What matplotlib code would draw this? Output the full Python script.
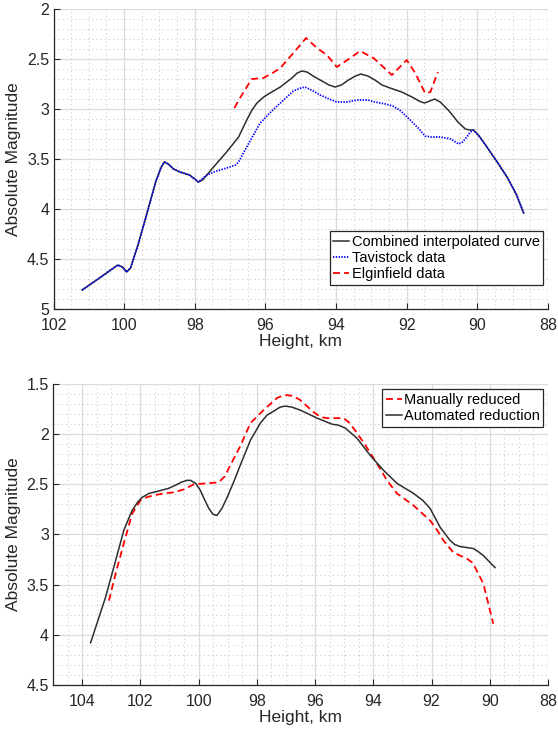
import matplotlib
matplotlib.use('Agg')
import matplotlib.pyplot as plt
from matplotlib.ticker import MultipleLocator

plt.rcParams['font.family'] = ['Liberation Sans', 'DejaVu Sans']
plt.rcParams['lines.scale_dashes'] = False

# --- top panel: combined vs. station data
comb_h = [101.19, 100.70, 100.30, 100.18, 100.05, 99.93, 99.82, 99.60, 99.40,
          99.10, 98.95, 98.86, 98.75, 98.60, 98.42, 98.15, 98.00, 97.90,
          97.78, 97.47, 97.10, 96.76, 96.53, 96.38, 96.24, 96.05, 95.87,
          95.58, 95.25, 95.10, 94.97, 94.82, 94.65, 94.45, 94.20, 94.03,
          93.85, 93.65, 93.45, 93.30, 93.10, 92.90, 92.70, 92.47, 92.14,
          91.85, 91.65, 91.50, 91.35, 91.21, 91.05, 90.80, 90.55, 90.34,
          90.22, 90.11, 89.95, 89.73, 89.40, 89.16, 88.90, 88.69]
comb_m = [4.81, 4.69, 4.59, 4.56, 4.58, 4.63, 4.59, 4.35, 4.10,
          3.72, 3.58, 3.53, 3.55, 3.60, 3.63, 3.66, 3.70, 3.73,
          3.71, 3.58, 3.43, 3.28, 3.11, 3.01, 2.94, 2.88, 2.84,
          2.78, 2.69, 2.64, 2.62, 2.63, 2.67, 2.71, 2.76, 2.78,
          2.76, 2.71, 2.67, 2.65, 2.67, 2.71, 2.76, 2.79, 2.83,
          2.88, 2.92, 2.94, 2.92, 2.90, 2.93, 3.02, 3.13, 3.20,
          3.21, 3.21, 3.27, 3.38, 3.55, 3.68, 3.85, 4.04]

tav_h = [101.19, 100.70, 100.30, 100.18, 100.05, 99.93, 99.82, 99.60, 99.40,
         99.10, 98.95, 98.86, 98.75, 98.60, 98.42, 98.15, 98.00, 97.90,
         97.70, 97.47, 97.10, 96.85, 96.76, 96.53, 96.15, 95.85, 95.58,
         95.21, 95.00, 94.88, 94.70, 94.45, 94.20, 93.98, 93.70, 93.41,
         93.10, 92.90, 92.60, 92.40, 92.20, 91.90, 91.65, 91.48, 91.30,
         91.05, 90.75, 90.53, 90.42, 90.30, 90.20, 90.11, 89.95, 89.73,
         89.40, 89.16, 88.90, 88.69]
tav_m = [4.81, 4.69, 4.59, 4.56, 4.58, 4.63, 4.59, 4.35, 4.10,
         3.72, 3.58, 3.53, 3.55, 3.60, 3.63, 3.66, 3.70, 3.73,
         3.67, 3.63, 3.59, 3.56, 3.53, 3.38, 3.14, 3.03, 2.94,
         2.82, 2.79, 2.78, 2.81, 2.86, 2.90, 2.93, 2.93, 2.91,
         2.91, 2.93, 2.95, 2.97, 3.01, 3.11, 3.20, 3.27, 3.28,
         3.28, 3.30, 3.35, 3.33, 3.28, 3.23, 3.21, 3.27, 3.38,
         3.55, 3.68, 3.85, 4.04]

elg_h = [96.88, 96.72, 96.39, 96.06, 95.80, 95.58, 95.21, 94.85, 94.54,
         94.26, 93.98, 93.60, 93.32, 92.94, 92.42, 92.00, 91.76, 91.48,
         91.33, 91.12]
elg_m = [2.99, 2.89, 2.70, 2.69, 2.64, 2.59, 2.44, 2.29, 2.39,
         2.46, 2.58, 2.49, 2.42, 2.49, 2.66, 2.51, 2.64, 2.84,
         2.83, 2.63]

# --- bottom panel: manual vs. automated reduction
auto_h = [103.71, 103.20, 102.85, 102.57, 102.40, 102.28, 102.10, 101.94,
          101.70, 101.42, 101.03, 100.80, 100.60, 100.40, 100.28, 100.10,
          99.94, 99.80, 99.65, 99.50, 99.37, 99.20, 99.02, 98.80, 98.57,
          98.22, 97.88, 97.65, 97.42, 97.20, 97.02, 96.80, 96.51, 95.93,
          95.42, 95.20, 94.96, 94.56, 94.11, 93.65, 93.40, 93.19, 92.62,
          92.30, 92.05, 91.70, 91.36, 91.20, 91.02, 90.80, 90.56, 90.40,
          90.22, 89.82]
auto_m = [4.08, 3.63, 3.26, 2.96, 2.84, 2.76, 2.68, 2.63,
          2.59, 2.57, 2.54, 2.51, 2.48, 2.46, 2.46, 2.49,
          2.56, 2.65, 2.74, 2.80, 2.81, 2.74, 2.63, 2.48, 2.31,
          2.06, 1.89, 1.81, 1.77, 1.73, 1.72, 1.73, 1.76, 1.84,
          1.90, 1.91, 1.94, 2.04, 2.21, 2.36, 2.43, 2.49, 2.59,
          2.66, 2.74, 2.93, 3.06, 3.10, 3.12, 3.13, 3.14, 3.17,
          3.21, 3.33]

man_h = [103.08, 102.85, 102.57, 102.28, 102.00, 101.80, 101.54, 101.20,
         100.85, 100.50, 100.17, 99.71, 99.31, 99.10, 98.91, 98.57, 98.22,
         97.77, 97.31, 97.15, 96.96, 96.75, 96.51, 96.05, 95.80, 95.59,
         95.02, 94.85, 94.68, 94.34, 93.88, 93.53, 93.19, 92.62, 92.05,
         91.80, 91.59, 91.25, 90.79, 90.60, 90.50, 90.22, 90.05, 89.88]
man_m = [3.66, 3.39, 3.09, 2.79, 2.66, 2.63, 2.61, 2.59,
         2.58, 2.55, 2.50, 2.49, 2.48, 2.42, 2.31, 2.12, 1.89,
         1.76, 1.64, 1.62, 1.61, 1.62, 1.66, 1.78, 1.83, 1.84,
         1.84, 1.88, 1.94, 2.08, 2.29, 2.46, 2.59, 2.71, 2.86,
         2.96, 3.06, 3.18, 3.24, 3.28, 3.33, 3.49, 3.69, 3.89]

black = '#262626'
red_dash = dict(color='red', lw=1.3, linestyle=(0, (5, 3)))
blue_dot = dict(color='blue', lw=1.3, linestyle=(0, (1, 1)))
black_line = dict(color='#2e2e2e', lw=1.1)


def style(ax, xlim, ylim, xticks, yticks):
    ax.set_xlim(*xlim)
    ax.set_ylim(*ylim)
    ax.set_xticks(xticks)
    ax.set_yticks(yticks)
    ax.set_yticklabels([('%g' % v) for v in yticks])
    ax.xaxis.set_minor_locator(MultipleLocator(0.5))
    ax.yaxis.set_minor_locator(MultipleLocator(0.1))
    ax.grid(which='major', color='#dcdcdc', lw=0.9, linestyle='-')
    ax.grid(which='minor', color='#d2d2d2', lw=0.7, linestyle=(0, (1, 2)))
    ax.set_axisbelow(True)
    for s in ('top', 'right'):
        ax.spines[s].set_visible(False)
    for s in ('left', 'bottom'):
        ax.spines[s].set_color(black)
        ax.spines[s].set_linewidth(0.9)
    ax.tick_params(which='major', direction='in', length=4, width=0.8,
                   colors=black, labelsize=11.5, pad=3)
    ax.tick_params(axis='x', which='major', pad=6.5)
    ax.tick_params(which='minor', length=0)
    ax.set_xlabel('Height, km', fontsize=12.5, color=black, labelpad=1)
    ax.set_ylabel('Absolute Magnitude', fontsize=12.5, color=black, labelpad=4)


fig = plt.figure(figsize=(5.58, 7.34), dpi=100)

ax1 = fig.add_axes([0.0959, 0.579, 0.8862, 0.4087])
ax1.plot(comb_h, comb_m, label='Combined interpolated curve', **black_line)
ax1.plot(tav_h, tav_m, label='Tavistock data', **blue_dot)
ax1.plot(elg_h, elg_m, label='Elginfield data', **red_dash)
style(ax1, (102, 88), (5, 2), [102, 100, 98, 96, 94, 92, 90, 88],
      [2, 2.5, 3, 3.5, 4, 4.5, 5])
leg1 = ax1.legend(loc='lower right', bbox_to_anchor=(0.9737, 0.6117),
                  bbox_transform=fig.transFigure, borderaxespad=0,
                  fontsize=10.5, handlelength=1.1, handletextpad=0.15,
                  labelspacing=0.15, borderpad=0.25, fancybox=False,
                  framealpha=1, edgecolor=black)
leg1.get_frame().set_linewidth(0.9)

ax2 = fig.add_axes([0.0950, 0.0668, 0.8871, 0.41])
ax2.plot(man_h, man_m, label='Manually reduced', **red_dash)
ax2.plot(auto_h, auto_m, label='Automated reduction', **black_line)
style(ax2, (105, 88), (4.5, 1.5), [104, 102, 100, 98, 96, 94, 92, 90, 88],
      [1.5, 2, 2.5, 3, 3.5, 4, 4.5])
leg2 = ax2.legend(loc='upper right', bbox_to_anchor=(0.9737, 0.4696),
                  bbox_transform=fig.transFigure, borderaxespad=0,
                  fontsize=10.5, handlelength=1.1, handletextpad=0.15,
                  labelspacing=0.15, borderpad=0.25, fancybox=False,
                  framealpha=1, edgecolor=black)
leg2.get_frame().set_linewidth(0.9)

fig.savefig('out.png', dpi=100)
